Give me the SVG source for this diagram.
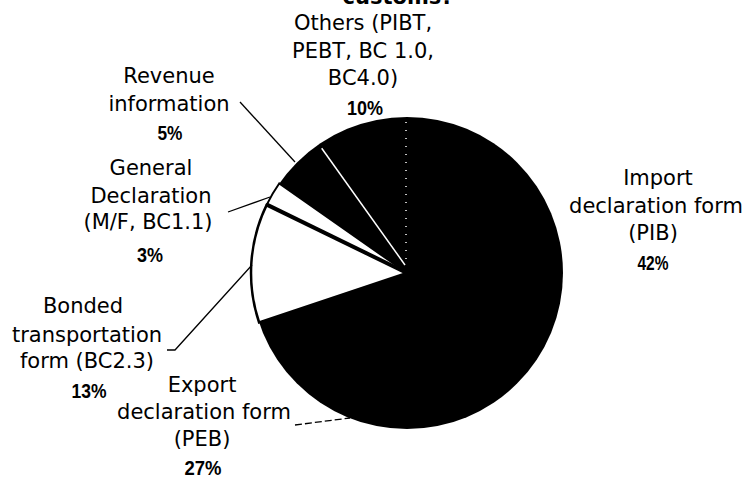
<svg xmlns="http://www.w3.org/2000/svg" width="749" height="478" viewBox="0 0 749 478">
  <style>
    .lbl { font-family: "DejaVu Sans", "Liberation Sans", sans-serif; font-size: 21px; fill: #000; text-anchor: middle; }
    .pct { font-family: "Liberation Sans", "DejaVu Sans", sans-serif; font-size: 21px; font-weight: bold; fill: #000; text-anchor: middle; }
    .lead { fill: none; stroke: #000; stroke-width: 1.3; }
  </style>
  <rect x="0" y="0" width="749" height="478" fill="#fff"/>

  <text class="lbl" x="398" y="4" font-weight="bold">customs?</text>

  <g id="pie">
    <circle cx="407" cy="273" r="156" fill="#000"/>
    <path id="slice-general" d="M407,273 L279.2,183.5 A156,156 0 0 0 266.8,204.6 Z" fill="#fff" stroke="#000" stroke-width="2"/>
    <path id="slice-bonded" d="M407,273 L266.8,204.6 A156,156 0 0 0 259.1,322.5 Z" fill="#fff" stroke="#000" stroke-width="2.5"/>
    <line x1="407" y1="273" x2="266.8" y2="204.6" stroke="#000" stroke-width="4"/>
    <line x1="321.7" y1="148.3" x2="405" y2="265" stroke="#fff" stroke-width="1.5"/>
    <line x1="406" y1="122" x2="406" y2="266" stroke="#fff" stroke-width="1.5" stroke-dasharray="1 7"/>
  </g>

  <g id="connectors">
    <line class="lead" x1="240" y1="102" x2="295" y2="162"/>
    <line class="lead" x1="228" y1="212" x2="270" y2="197"/>
    <polyline class="lead" points="167,350 175,350 252,265"/>
    <line class="lead" x1="295" y1="425" x2="350" y2="418" stroke-dasharray="7 3"/>
  </g>

  <g id="others">
    <text class="lbl" x="363" y="30">Others (PIBT,</text>
    <text class="lbl" x="363" y="58">PEBT, BC 1.0,</text>
    <text class="lbl" x="363" y="85">BC4.0)</text>
    <text class="pct" x="365" y="115" textLength="36" lengthAdjust="spacingAndGlyphs">10%</text>
  </g>

  <g id="revenue">
    <text class="lbl" x="169" y="83">Revenue</text>
    <text class="lbl" x="169" y="111">information</text>
    <text class="pct" x="170" y="140" textLength="25" lengthAdjust="spacingAndGlyphs">5%</text>
  </g>

  <g id="general">
    <text class="lbl" x="151" y="175">General</text>
    <text class="lbl" x="151" y="203">Declaration</text>
    <text class="lbl" x="148" y="229">(M/F, BC1.1)</text>
    <text class="pct" x="150" y="262" textLength="26" lengthAdjust="spacingAndGlyphs">3%</text>
  </g>

  <g id="bonded">
    <text class="lbl" x="83" y="313">Bonded</text>
    <text class="lbl" x="87" y="342">transportation</text>
    <text class="lbl" x="87" y="368">form (BC2.3)</text>
    <text class="pct" x="89" y="398" textLength="35" lengthAdjust="spacingAndGlyphs">13%</text>
  </g>

  <g id="export">
    <text class="lbl" x="202" y="392">Export</text>
    <text class="lbl" x="204" y="419">declaration form</text>
    <text class="lbl" x="202" y="446">(PEB)</text>
    <text class="pct" x="203" y="475" textLength="37" lengthAdjust="spacingAndGlyphs">27%</text>
  </g>

  <g id="import">
    <text class="lbl" x="658" y="185">Import</text>
    <text class="lbl" x="656" y="213">declaration form</text>
    <text class="lbl" x="653" y="240">(PIB)</text>
    <text class="pct" x="653" y="270" textLength="31" lengthAdjust="spacingAndGlyphs">42%</text>
  </g>
</svg>
